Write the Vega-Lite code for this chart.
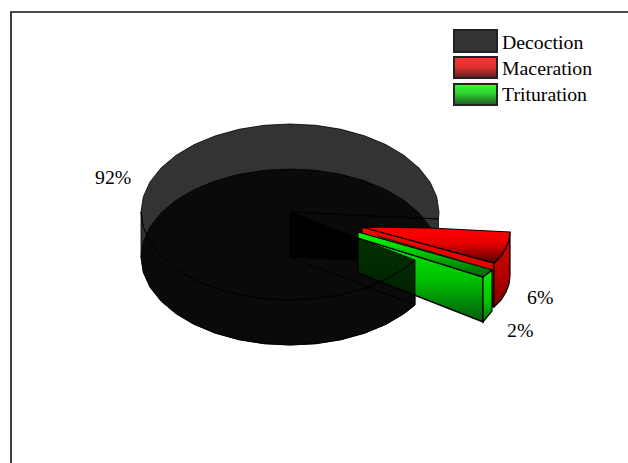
{
  "$schema": "https://vega.github.io/schema/vega-lite/v6.json",
  "autosize": {"type": "fit", "contains": "padding"},
  "width": 628,
  "height": 463,
  "padding": 0,
  "background": "white",
  "config": {"view": {"stroke": null}},
  "datasets": {
    "outline": [
      {"part":"frame","i":0,"x":11,"y":463},{"part":"frame","i":1,"x":11,"y":12},{"part":"frame","i":2,"x":628,"y":12},

      {"part":"bottom","i":0,"x":290,"y":257},{"part":"bottom","i":1,"x":415,"y":305},{"part":"bottom","i":2,"x":404.1,"y":313.6},{"part":"bottom","i":3,"x":385.8,"y":324.4},{"part":"bottom","i":4,"x":364.5,"y":333.2},{"part":"bottom","i":5,"x":341,"y":339.7},{"part":"bottom","i":6,"x":315.9,"y":343.7},{"part":"bottom","i":7,"x":290,"y":345},{"part":"bottom","i":8,"x":264.1,"y":343.7},{"part":"bottom","i":9,"x":239,"y":339.7},{"part":"bottom","i":10,"x":215.5,"y":333.2},{"part":"bottom","i":11,"x":194.2,"y":324.4},{"part":"bottom","i":12,"x":175.9,"y":313.6},{"part":"bottom","i":13,"x":161,"y":301},{"part":"bottom","i":14,"x":150,"y":287.1},{"part":"bottom","i":15,"x":143.3,"y":272.3},{"part":"bottom","i":16,"x":141,"y":257},{"part":"bottom","i":17,"x":143.3,"y":241.7},{"part":"bottom","i":18,"x":150,"y":226.9},{"part":"bottom","i":19,"x":161,"y":213},{"part":"bottom","i":20,"x":175.9,"y":200.4},{"part":"bottom","i":21,"x":194.2,"y":189.6},{"part":"bottom","i":22,"x":215.5,"y":180.8},{"part":"bottom","i":23,"x":239,"y":174.3},{"part":"bottom","i":24,"x":264.1,"y":170.3},{"part":"bottom","i":25,"x":290,"y":169},{"part":"bottom","i":26,"x":315.9,"y":170.3},{"part":"bottom","i":27,"x":341,"y":174.3},{"part":"bottom","i":28,"x":364.5,"y":180.8},{"part":"bottom","i":29,"x":385.8,"y":189.6},{"part":"bottom","i":30,"x":404.1,"y":200.4},{"part":"bottom","i":31,"x":419,"y":213},{"part":"bottom","i":32,"x":430,"y":226.9},{"part":"bottom","i":33,"x":436.7,"y":241.7},{"part":"bottom","i":34,"x":439,"y":257},{"part":"bottom","i":35,"x":438.5,"y":264},{"part":"bottom","i":36,"x":290,"y":257},

      {"part":"back","i":0,"x":290,"y":212},{"part":"back","i":1,"x":438.5,"y":219},{"part":"back","i":2,"x":438.5,"y":264},{"part":"back","i":3,"x":290,"y":257},{"part":"back","i":4,"x":290,"y":212},

      {"part":"front","i":0,"x":290,"y":212},{"part":"front","i":1,"x":415,"y":260},{"part":"front","i":2,"x":415,"y":305},{"part":"front","i":3,"x":290,"y":257},{"part":"front","i":4,"x":290,"y":212},

      {"part":"redInner","i":0,"x":362,"y":227},{"part":"redInner","i":1,"x":494,"y":263},{"part":"redInner","i":2,"x":494,"y":307},{"part":"redInner","i":3,"x":362,"y":272},{"part":"redInner","i":4,"x":362,"y":227},

      {"part":"redWall","i":0,"x":510,"y":232},{"part":"redWall","i":1,"x":509,"y":240},{"part":"redWall","i":2,"x":506,"y":248},{"part":"redWall","i":3,"x":501,"y":256},{"part":"redWall","i":4,"x":494,"y":263},{"part":"redWall","i":5,"x":494,"y":307},{"part":"redWall","i":6,"x":501,"y":300},{"part":"redWall","i":7,"x":506,"y":292},{"part":"redWall","i":8,"x":509,"y":284},{"part":"redWall","i":9,"x":510,"y":276},{"part":"redWall","i":10,"x":510,"y":232},

      {"part":"redTop","i":0,"x":362,"y":227},{"part":"redTop","i":1,"x":430,"y":228},{"part":"redTop","i":2,"x":510,"y":232},{"part":"redTop","i":3,"x":509,"y":240},{"part":"redTop","i":4,"x":506,"y":248},{"part":"redTop","i":5,"x":501,"y":256},{"part":"redTop","i":6,"x":494,"y":263},{"part":"redTop","i":7,"x":362,"y":227},

      {"part":"greenFront","i":0,"x":358,"y":238},{"part":"greenFront","i":1,"x":483,"y":277},{"part":"greenFront","i":2,"x":483,"y":322},{"part":"greenFront","i":3,"x":358,"y":273},{"part":"greenFront","i":4,"x":358,"y":238},

      {"part":"greenSide","i":0,"x":483,"y":277},{"part":"greenSide","i":1,"x":492,"y":270},{"part":"greenSide","i":2,"x":492,"y":311},{"part":"greenSide","i":3,"x":483,"y":322},{"part":"greenSide","i":4,"x":483,"y":277},

      {"part":"greenTop","i":0,"x":358,"y":232},{"part":"greenTop","i":1,"x":492,"y":270},{"part":"greenTop","i":2,"x":483,"y":277},{"part":"greenTop","i":3,"x":358,"y":238},{"part":"greenTop","i":4,"x":358,"y":232},

      {"part":"greenCrease","i":0,"x":378,"y":236},{"part":"greenCrease","i":1,"x":492,"y":270},

      {"part":"top","i":0,"x":290,"y":212},{"part":"top","i":1,"x":415,"y":260},{"part":"top","i":2,"x":404.1,"y":268.6},{"part":"top","i":3,"x":385.8,"y":279.4},{"part":"top","i":4,"x":364.5,"y":288.2},{"part":"top","i":5,"x":341,"y":294.7},{"part":"top","i":6,"x":315.9,"y":298.7},{"part":"top","i":7,"x":290,"y":300},{"part":"top","i":8,"x":264.1,"y":298.7},{"part":"top","i":9,"x":239,"y":294.7},{"part":"top","i":10,"x":215.5,"y":288.2},{"part":"top","i":11,"x":194.2,"y":279.4},{"part":"top","i":12,"x":175.9,"y":268.6},{"part":"top","i":13,"x":161,"y":256},{"part":"top","i":14,"x":150,"y":242.1},{"part":"top","i":15,"x":143.3,"y":227.3},{"part":"top","i":16,"x":141,"y":212},{"part":"top","i":17,"x":143.3,"y":196.7},{"part":"top","i":18,"x":150,"y":181.9},{"part":"top","i":19,"x":161,"y":168},{"part":"top","i":20,"x":175.9,"y":155.4},{"part":"top","i":21,"x":194.2,"y":144.6},{"part":"top","i":22,"x":215.5,"y":135.8},{"part":"top","i":23,"x":239,"y":129.3},{"part":"top","i":24,"x":264.1,"y":125.3},{"part":"top","i":25,"x":290,"y":124},{"part":"top","i":26,"x":315.9,"y":125.3},{"part":"top","i":27,"x":341,"y":129.3},{"part":"top","i":28,"x":364.5,"y":135.8},{"part":"top","i":29,"x":385.8,"y":144.6},{"part":"top","i":30,"x":404.1,"y":155.4},{"part":"top","i":31,"x":419,"y":168},{"part":"top","i":32,"x":430,"y":181.9},{"part":"top","i":33,"x":436.7,"y":196.7},{"part":"top","i":34,"x":439,"y":212},{"part":"top","i":35,"x":438.5,"y":219},{"part":"top","i":36,"x":290,"y":212},

      {"part":"wall","i":0,"x":415,"y":260},{"part":"wall","i":1,"x":404.1,"y":268.6},{"part":"wall","i":2,"x":385.8,"y":279.4},{"part":"wall","i":3,"x":364.5,"y":288.2},{"part":"wall","i":4,"x":341,"y":294.7},{"part":"wall","i":5,"x":315.9,"y":298.7},{"part":"wall","i":6,"x":290,"y":300},{"part":"wall","i":7,"x":264.1,"y":298.7},{"part":"wall","i":8,"x":239,"y":294.7},{"part":"wall","i":9,"x":215.5,"y":288.2},{"part":"wall","i":10,"x":194.2,"y":279.4},{"part":"wall","i":11,"x":175.9,"y":268.6},{"part":"wall","i":12,"x":161,"y":256},{"part":"wall","i":13,"x":150,"y":242.1},{"part":"wall","i":14,"x":143.3,"y":227.3},{"part":"wall","i":15,"x":141,"y":212},{"part":"wall","i":16,"x":141,"y":257},{"part":"wall","i":17,"x":143.3,"y":272.3},{"part":"wall","i":18,"x":150,"y":287.1},{"part":"wall","i":19,"x":161,"y":301},{"part":"wall","i":20,"x":175.9,"y":313.6},{"part":"wall","i":21,"x":194.2,"y":324.4},{"part":"wall","i":22,"x":215.5,"y":333.2},{"part":"wall","i":23,"x":239,"y":339.7},{"part":"wall","i":24,"x":264.1,"y":343.7},{"part":"wall","i":25,"x":290,"y":345},{"part":"wall","i":26,"x":315.9,"y":343.7},{"part":"wall","i":27,"x":341,"y":339.7},{"part":"wall","i":28,"x":364.5,"y":333.2},{"part":"wall","i":29,"x":385.8,"y":324.4},{"part":"wall","i":30,"x":404.1,"y":313.6},{"part":"wall","i":31,"x":415,"y":305},{"part":"wall","i":32,"x":415,"y":260}
    ],
    "legendRows": [
      {"method":"Decoction","x":454,"x2":497,"y":30,"y2":52,"tx":502,"ty":49},
      {"method":"Maceration","x":454,"x2":497,"y":57,"y2":78,"tx":502,"ty":75},
      {"method":"Trituration","x":454,"x2":497,"y":84,"y2":105,"tx":502,"ty":101}
    ],
    "shares": [
      {"method":"Decoction","value":92,"label":"92%","tx":95,"ty":184},
      {"method":"Maceration","value":6,"label":"6%","tx":527,"ty":304},
      {"method":"Trituration","value":2,"label":"2%","tx":507,"ty":337}
    ]
  },
  "data": {"name": "outline"},
  "encoding": {
    "x": {"field": "x", "type": "quantitative", "scale": {"domain": [0, 628], "nice": false, "zero": false}, "axis": null},
    "y": {"field": "y", "type": "quantitative", "scale": {"domain": [463, 0], "nice": false, "zero": false}, "axis": null}
  },
  "layer": [
    {"transform": [{"filter": "datum.part === 'frame'"}], "mark": {"type": "line", "stroke": "#111111", "strokeWidth": 1.6, "clip": true}, "encoding": {"order": {"field": "i"}}},

    {"transform": [{"filter": "datum.part === 'bottom'"}], "mark": {"type": "line", "fill": "#000000", "fillOpacity": 0.8, "stroke": "#000000", "strokeWidth": 1, "strokeOpacity": 0.8}, "encoding": {"order": {"field": "i"}}},
    {"transform": [{"filter": "datum.part === 'back'"}], "mark": {"type": "line", "fill": "#000000", "fillOpacity": 0.8, "stroke": "#000000", "strokeWidth": 1, "strokeOpacity": 0.8}, "encoding": {"order": {"field": "i"}}},
    {"transform": [{"filter": "datum.part === 'front'"}], "mark": {"type": "line", "fill": "#000000", "fillOpacity": 0.8, "stroke": "#000000", "strokeWidth": 1, "strokeOpacity": 0.8}, "encoding": {"order": {"field": "i"}}},

    {"transform": [{"filter": "datum.part === 'redInner'"}], "mark": {"type": "line", "stroke": "#000000", "strokeWidth": 1.2, "fill": {"gradient": "linear", "x1": 0, "y1": 0, "x2": 0, "y2": 1, "stops": [{"offset": 0, "color": "#ff0000"}, {"offset": 0.55, "color": "#e00000"}, {"offset": 1, "color": "#800000"}]}}, "encoding": {"order": {"field": "i"}}},
    {"transform": [{"filter": "datum.part === 'redWall'"}], "mark": {"type": "line", "stroke": "#000000", "strokeWidth": 1.2, "fill": {"gradient": "linear", "x1": 0, "y1": 0, "x2": 0, "y2": 1, "stops": [{"offset": 0, "color": "#e00000"}, {"offset": 0.6, "color": "#b00000"}, {"offset": 1, "color": "#800000"}]}}, "encoding": {"order": {"field": "i"}}},
    {"transform": [{"filter": "datum.part === 'redTop'"}], "mark": {"type": "line", "stroke": "#000000", "strokeWidth": 1.2, "fill": {"gradient": "linear", "x1": 0, "y1": 0, "x2": 0, "y2": 1, "stops": [{"offset": 0, "color": "#ff0000"}, {"offset": 0.45, "color": "#e80000"}, {"offset": 1, "color": "#500000"}]}}, "encoding": {"order": {"field": "i"}}},

    {"transform": [{"filter": "datum.part === 'greenFront'"}], "mark": {"type": "line", "stroke": "#000000", "strokeWidth": 1.4, "fill": {"gradient": "linear", "x1": 0, "y1": 0, "x2": 0, "y2": 1, "stops": [{"offset": 0, "color": "#00f000"}, {"offset": 0.5, "color": "#00c000"}, {"offset": 1, "color": "#005a10"}]}}, "encoding": {"order": {"field": "i"}}},
    {"transform": [{"filter": "datum.part === 'greenSide'"}], "mark": {"type": "line", "stroke": "#000000", "strokeWidth": 1.2, "fill": {"gradient": "linear", "x1": 0, "y1": 0, "x2": 0, "y2": 1, "stops": [{"offset": 0, "color": "#00f000"}, {"offset": 0.6, "color": "#00c800"}, {"offset": 1, "color": "#007010"}]}}, "encoding": {"order": {"field": "i"}}},
    {"transform": [{"filter": "datum.part === 'greenTop'"}], "mark": {"type": "line", "stroke": "#000000", "strokeWidth": 1.2, "fill": {"gradient": "linear", "x1": 0, "y1": 0, "x2": 0, "y2": 1, "stops": [{"offset": 0, "color": "#00ff00"}, {"offset": 0.4, "color": "#00d000"}, {"offset": 1, "color": "#006000"}]}}, "encoding": {"order": {"field": "i"}}},
    {"transform": [{"filter": "datum.part === 'greenCrease'"}], "mark": {"type": "line", "stroke": "#003000", "strokeWidth": 1}, "encoding": {"order": {"field": "i"}}},

    {"transform": [{"filter": "datum.part === 'top'"}], "mark": {"type": "line", "fill": "#000000", "fillOpacity": 0.8, "stroke": "#000000", "strokeWidth": 1, "strokeOpacity": 0.8}, "encoding": {"order": {"field": "i"}}},
    {"transform": [{"filter": "datum.part === 'wall'"}], "mark": {"type": "line", "fill": "#000000", "fillOpacity": 0.8, "stroke": "#000000", "strokeWidth": 1, "strokeOpacity": 0.8}, "encoding": {"order": {"field": "i"}}},

    {"data": {"name": "legendRows"}, "transform": [{"filter": "datum.method === 'Decoction'"}], "mark": {"type": "rect", "fill": "#333333", "stroke": "#222222", "strokeWidth": 2}, "encoding": {"x2": {"field": "x2"}, "y2": {"field": "y2"}}},
    {"data": {"name": "legendRows"}, "transform": [{"filter": "datum.method === 'Maceration'"}], "mark": {"type": "rect", "stroke": "#222222", "strokeWidth": 2, "fill": {"gradient": "linear", "x1": 0, "y1": 0, "x2": 0, "y2": 1, "stops": [{"offset": 0, "color": "#ff3333"}, {"offset": 0.45, "color": "#e83030"}, {"offset": 1, "color": "#5a2020"}]}}, "encoding": {"x2": {"field": "x2"}, "y2": {"field": "y2"}}},
    {"data": {"name": "legendRows"}, "transform": [{"filter": "datum.method === 'Trituration'"}], "mark": {"type": "rect", "stroke": "#222222", "strokeWidth": 2, "fill": {"gradient": "linear", "x1": 0, "y1": 0, "x2": 0, "y2": 1, "stops": [{"offset": 0, "color": "#33ff33"}, {"offset": 0.45, "color": "#30d030"}, {"offset": 1, "color": "#205a20"}]}}, "encoding": {"x2": {"field": "x2"}, "y2": {"field": "y2"}}},

    {"data": {"name": "legendRows"}, "mark": {"type": "text", "align": "left", "baseline": "alphabetic", "font": "Liberation Serif", "fontSize": 19.8, "fill": "#000000"}, "encoding": {"x": {"field": "tx", "type": "quantitative"}, "y": {"field": "ty", "type": "quantitative"}, "text": {"field": "method"}}},
    {"data": {"name": "shares"}, "mark": {"type": "text", "align": "left", "baseline": "alphabetic", "font": "Liberation Serif", "fontSize": 19.8, "fill": "#000000"}, "encoding": {"x": {"field": "tx", "type": "quantitative"}, "y": {"field": "ty", "type": "quantitative"}, "text": {"field": "label"}}}
  ]
}
